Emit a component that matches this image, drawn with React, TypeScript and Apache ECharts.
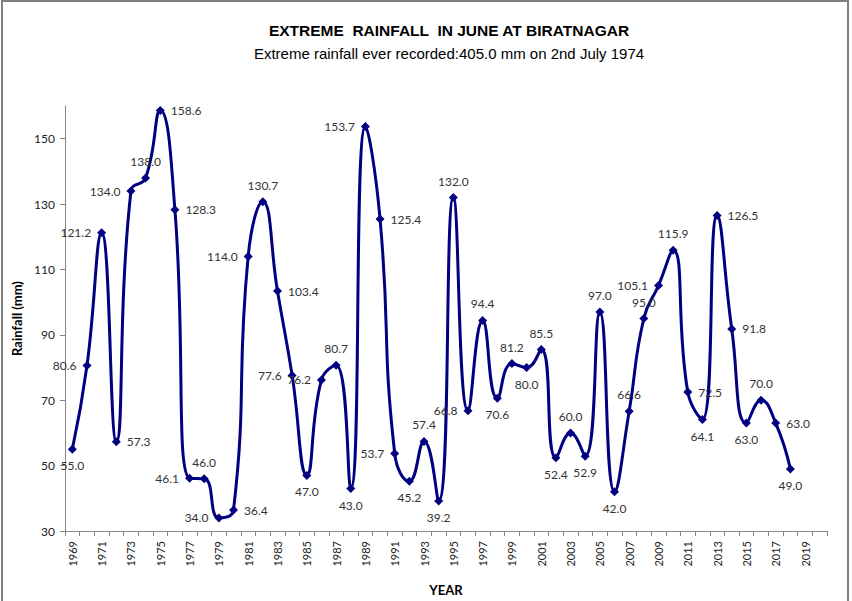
import React, { useEffect, useRef } from "react";
import * as echarts from "echarts";

const YEARS: string[] = [];
for (let y = 1969; y <= 2020; y++) YEARS.push(String(y));

const RAINFALL: (number | null)[] = [
  55.0, 80.6, 121.2, 57.3, 134.0, 138.0, 158.6, 128.3, 46.1, 46.0,
  34.0, 36.4, 114.0, 130.7, 103.4, 77.6, 47.0, 76.2, 80.7, 43.0,
  153.7, 125.4, 53.7, 45.2, 57.4, 39.2, 132.0, 66.8, 94.4, 70.6,
  81.2, 80.0, 85.5, 52.4, 60.0, 52.9, 97.0, 42.0, 66.6, 95.0,
  105.1, 115.9, 72.5, 64.1, 126.5, 91.8, 63.0, 70.0, 63.0, 49.0,
  null, null,
];

const Y_TICKS = [30, 50, 70, 90, 110, 130, 150];

const TITLE = "EXTREME  RAINFALL  IN JUNE AT BIRATNAGAR";
const SUBTITLE = "Extreme rainfall ever recorded:405.0 mm on 2nd July 1974";

// label placement (style only)
const LABEL_POS: Record<string, string> = {
  "1969": "bottom", "1970": "left", "1971": "left", "1972": "right", "1973": "left",
  "1974": "top", "1975": "right", "1976": "right", "1977": "left", "1978": "top",
  "1979": "left", "1980": "right", "1981": "left", "1982": "top", "1983": "right",
  "1984": "left", "1985": "bottom", "1986": "left", "1987": "top", "1988": "bottom",
  "1989": "left", "1990": "right", "1991": "left", "1992": "bottom", "1993": "top",
  "1994": "bottom", "1995": "top", "1996": "left", "1997": "top", "1998": "bottom",
  "1999": "top", "2000": "bottom", "2001": "top", "2002": "bottom", "2003": "top",
  "2004": "bottom", "2005": "top", "2006": "bottom", "2007": "top", "2008": "top",
  "2009": "left", "2010": "top", "2011": "right", "2012": "bottom", "2013": "right",
  "2014": "right", "2015": "bottom", "2016": "top", "2017": "right", "2018": "bottom",
};

export default function App() {
  const ref = useRef<HTMLDivElement>(null);
  useEffect(() => {
    if (!ref.current) return;
    const chart = echarts.init(ref.current, undefined, { renderer: "svg" });
    const data = RAINFALL.map((v, i) => {
      if (v == null) return null;
      return {
        value: v,
        label: { position: LABEL_POS[YEARS[i]] || "top" },
      };
    });
    chart.setOption({
      animation: false,
      backgroundColor: "#ffffff",
      graphic: [
        {
          type: "rect",
          shape: { x: 2, y: 1, width: 846, height: 620 },
          style: { fill: "none", stroke: "#7f7f7f", lineWidth: 2 },
          silent: true,
        },
      ],
      title: [
        {
          text: TITLE,
          left: 444,
          top: 17,
          textAlign: "center",
          textStyle: {
            fontFamily: "Liberation Sans",
            fontSize: 15.5,
            fontWeight: "bold",
            color: "#000",
          },
        },
        {
          text: SUBTITLE,
          left: 444,
          top: 41,
          textAlign: "center",
          textStyle: {
            fontFamily: "Liberation Sans",
            fontSize: 15,
            fontWeight: "normal",
            color: "#000",
          },
        },
      ],
      grid: { left: 65, width: 762, top: 106, height: 427, containLabel: false },
      xAxis: {
        type: "category",
        data: YEARS,
        boundaryGap: true,
        name: "YEAR",
        nameLocation: "middle",
        nameGap: 52,
        nameTextStyle: {
          fontFamily: "Lato",
          fontWeight: "bold",
          fontSize: 13,
          color: "#000",
        },
        axisLine: { lineStyle: { color: "#868686", width: 1 } },
        axisTick: { show: true, interval: 0, length: 5, lineStyle: { color: "#868686" } },
        axisLabel: {
          interval: 1,
          rotate: 90,
          margin: 10,
          fontFamily: "Lato",
          fontSize: 11,
          color: "#222",
        },
        splitLine: { show: false },
      },
      yAxis: {
        type: "value",
        min: 30,
        max: 160,
        name: "Rainfall (mm)",
        nameLocation: "middle",
        nameGap: 32,
        nameTextStyle: {
          fontFamily: "Lato",
          fontWeight: "bold",
          fontSize: 13,
          color: "#000",
        },
        axisLine: { show: true, lineStyle: { color: "#868686", width: 1 } },
        axisTick: { show: true, length: 5, customValues: Y_TICKS, lineStyle: { color: "#868686" } },
        axisLabel: {
          customValues: Y_TICKS,
          margin: 10,
          fontFamily: "Lato",
          fontSize: 12,
          color: "#222",
        },
        splitLine: { show: false },
      },
      series: [
        {
          type: "line",
          data,
          smooth: 0.5,
          connectNulls: false,
          symbol: "diamond",
          symbolSize: 9,
          itemStyle: { color: "#000080" },
          lineStyle: { color: "#000080", width: 3 },
          label: {
            show: true,
            formatter: (p: any) => Number(p.value).toFixed(1),
            fontFamily: "Lato",
            fontSize: 12,
            color: "#333",
            distance: 6,
          },
        },
      ],
    });
    return () => chart.dispose();
  }, []);
  return (
    <div
      ref={ref}
      style={{ position: "fixed", left: 0, top: 0, width: 852, height: 601 }}
    />
  );
}
